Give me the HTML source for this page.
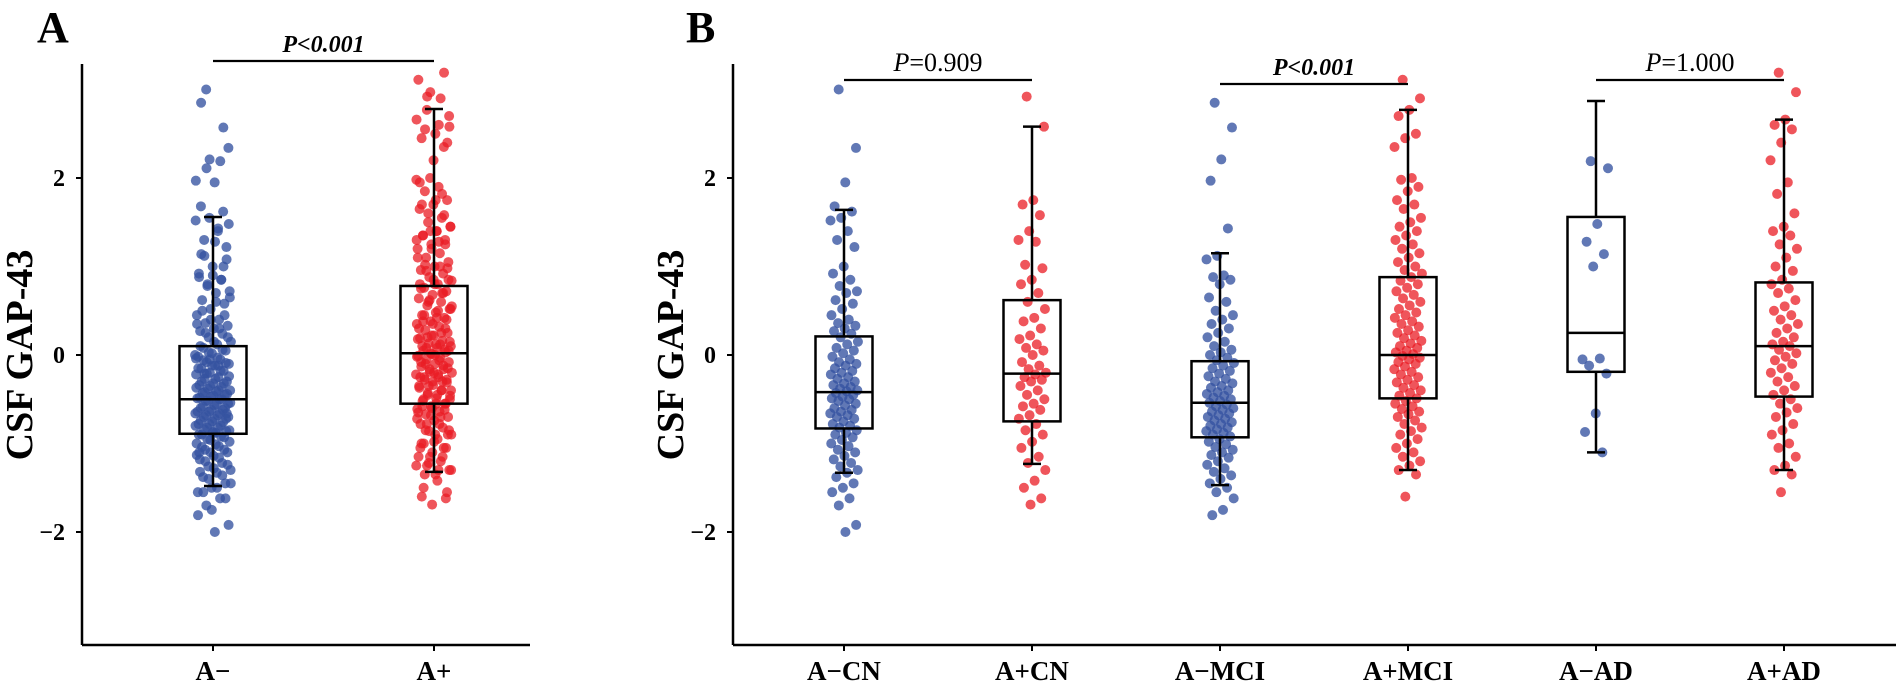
<!DOCTYPE html>
<html><head><meta charset="utf-8">
<style>
html,body{margin:0;padding:0;background:#fff;}
svg{display:block;font-family:"Liberation Serif",serif;}
</style></head>
<body>
<svg id="chart" width="1902" height="687" viewBox="0 0 1902 687" xmlns="http://www.w3.org/2000/svg"></svg>
<script>
// ---- data ----
const categoriesA = ["A\u2212","A+"];
const categoriesB = ["A\u2212CN","A+CN","A\u2212MCI","A+MCI","A\u2212AD","A+AD"];
const yTicks = [2,0,-2];
const tickLabels = ["2","0","\u22122"];
const negCN = [3.0,2.34,1.95,1.68,1.62,1.55,1.52,1.4,1.3,1.22,1.0,0.92,0.85,0.78,0.72,0.7,0.62,0.58,0.52,0.45,0.4,0.36,0.33,0.3,0.27,0.24,0.2,0.15,0.12,0.08,0.05,0.02,-0.02,-0.05,-0.08,-0.1,-0.12,-0.15,-0.18,-0.2,-0.22,-0.25,-0.27,-0.3,-0.32,-0.34,-0.36,-0.38,-0.4,-0.41,-0.43,-0.45,-0.47,-0.49,-0.5,-0.52,-0.55,-0.57,-0.6,-0.62,-0.64,-0.66,-0.68,-0.7,-0.72,-0.75,-0.78,-0.8,-0.82,-0.85,-0.88,-0.9,-0.93,-0.96,-1.0,-1.03,-1.07,-1.1,-1.14,-1.18,-1.22,-1.26,-1.3,-1.33,-1.38,-1.45,-1.5,-1.55,-1.62,-1.7,-1.92,-2.0];
const posCN = [2.92,2.58,1.75,1.7,1.58,1.4,1.3,1.28,1.02,0.98,0.85,0.8,0.7,0.6,0.52,0.42,0.38,0.3,0.22,0.18,0.12,0.08,0.05,0.0,-0.08,-0.12,-0.16,-0.2,-0.22,-0.25,-0.28,-0.3,-0.35,-0.4,-0.45,-0.5,-0.55,-0.58,-0.62,-0.68,-0.72,-0.78,-0.85,-0.9,-0.98,-1.05,-1.15,-1.22,-1.3,-1.42,-1.5,-1.62,-1.69];
const negMCI = [2.85,2.57,2.21,1.97,1.43,1.12,1.08,0.9,0.88,0.85,0.8,0.65,0.6,0.5,0.45,0.4,0.35,0.3,0.25,0.2,0.15,0.1,0.06,0.03,0.0,-0.03,-0.06,-0.09,-0.12,-0.15,-0.18,-0.21,-0.24,-0.27,-0.3,-0.32,-0.35,-0.37,-0.4,-0.42,-0.44,-0.46,-0.48,-0.5,-0.52,-0.54,-0.56,-0.58,-0.6,-0.62,-0.64,-0.66,-0.68,-0.7,-0.72,-0.74,-0.76,-0.78,-0.8,-0.82,-0.84,-0.86,-0.88,-0.9,-0.92,-0.95,-0.98,-1.01,-1.04,-1.07,-1.1,-1.13,-1.16,-1.2,-1.24,-1.28,-1.32,-1.36,-1.4,-1.45,-1.5,-1.55,-1.62,-1.75,-1.81];
const posMCI = [3.11,2.9,2.77,2.7,2.5,2.45,2.35,2.0,1.98,1.9,1.85,1.75,1.7,1.65,1.55,1.5,1.45,1.4,1.35,1.3,1.25,1.2,1.15,1.1,1.05,1.0,0.96,0.92,0.88,0.84,0.8,0.76,0.72,0.68,0.64,0.6,0.56,0.52,0.48,0.45,0.42,0.38,0.35,0.32,0.28,0.25,0.22,0.19,0.16,0.13,0.1,0.08,0.05,0.03,0.01,-0.01,-0.03,-0.05,-0.08,-0.1,-0.13,-0.16,-0.19,-0.22,-0.25,-0.28,-0.31,-0.34,-0.37,-0.4,-0.43,-0.46,-0.49,-0.52,-0.55,-0.58,-0.61,-0.64,-0.67,-0.7,-0.74,-0.78,-0.82,-0.86,-0.9,-0.95,-1.0,-1.05,-1.1,-1.15,-1.2,-1.25,-1.3,-1.35,-1.6];
const negAD = [2.19,2.11,1.48,1.28,1.14,1.0,-0.05,-0.04,-0.12,-0.21,-0.66,-0.87,-1.1];
const posAD = [3.19,2.97,2.66,2.6,2.55,2.4,2.2,1.95,1.82,1.6,1.45,1.4,1.35,1.25,1.2,1.1,1.0,0.95,0.85,0.8,0.75,0.7,0.62,0.55,0.5,0.45,0.4,0.35,0.3,0.25,0.2,0.15,0.12,0.1,0.06,0.02,-0.02,-0.06,-0.1,-0.15,-0.2,-0.25,-0.3,-0.35,-0.4,-0.45,-0.5,-0.55,-0.6,-0.65,-0.7,-0.78,-0.85,-0.9,-1.0,-1.05,-1.15,-1.25,-1.3,-1.35,-1.55];
// box stats: [lowWhisker, q1, median, q3, highWhisker]
const boxA = [[-1.48,-0.89,-0.5,0.1,1.56],[-1.32,-0.55,0.02,0.78,2.78]];
const boxB = [[-1.33,-0.83,-0.42,0.21,1.64],[-1.23,-0.75,-0.21,0.62,2.58],[-1.47,-0.93,-0.54,-0.07,1.15],[-1.3,-0.49,0.0,0.88,2.77],[-1.1,-0.19,0.25,1.56,2.87],[-1.3,-0.47,0.1,0.82,2.66]];
const pA = ["P<0.001"];
const pB = ["=0.909","P<0.001","=1.000"];

// ---- layout ----
const NS="http://www.w3.org/2000/svg";
const svg=document.getElementById('chart');
function y(v){return 355-88.5*v;}
const Y_TOP=64, Y_BOT=645;
const BLUE="rgba(52,82,160,0.78)", RED="rgba(233,28,36,0.75)";
function mk(tag,attrs,parent){const e=document.createElementNS(NS,tag);for(const k in attrs)e.setAttribute(k,attrs[k]);(parent||svg).appendChild(e);return e;}

function axes(x0,x1,centers,cats,panel){
  const g=mk('g',{});
  
  
  const ya=mk('line',{x1:x0,y1:Y_TOP,x2:x0,y2:Y_BOT,stroke:'#000','stroke-width':2.5},g);
  
  
  const xa=mk('line',{x1:x0,y1:Y_BOT,x2:x1,y2:Y_BOT,stroke:'#000','stroke-width':2.5},g);
  
  
  yTicks.forEach((t,i)=>{
    mk('line',{x1:x0-6,y1:y(t),x2:x0,y2:y(t),stroke:'#000','stroke-width':2},g);
    const tx=mk('text',{x:x0-17,y:y(t)+8,'text-anchor':'end','font-size':24,'font-weight':'bold'},g);
    tx.textContent=tickLabels[i];
    
    
  });
  cats.forEach((c,i)=>{
    mk('line',{x1:centers[i],y1:Y_BOT,x2:centers[i],y2:Y_BOT+6,stroke:'#000','stroke-width':2},g);
    const tx=mk('text',{x:centers[i],y:680,'text-anchor':'middle','font-size':27,'font-weight':'bold'},g);
    tx.textContent=c;
    
    
  });
  const t=mk('text',{x:0,y:0,'text-anchor':'middle','font-size':38,'font-weight':'bold',transform:`translate(${x0-50},355) rotate(-90)`},g);
  t.textContent="CSF GAP-43";
  
  
}

function points(vals,cx,w,color,name){
  const g=mk('g',{});
  
  
  vals.forEach((v,i)=>{
    const f=((i*0.6180339887+0.31)%1)-0.5;
    const c=mk('circle',{cx:cx+f*2*w,cy:y(v),r:5,fill:color},g);
    
    
  });
}

function box(st,cx,bw,name){
  const g=mk('g',{fill:'none',stroke:'#000','stroke-width':2.5});
  
  
  const [lo,q1,md,q3,hi]=st;
  mk('line',{x1:cx,y1:y(hi),x2:cx,y2:y(q3)},g);
  mk('line',{x1:cx,y1:y(q1),x2:cx,y2:y(lo)},g);
  mk('line',{x1:cx-9,y1:y(hi),x2:cx+9,y2:y(hi)},g);
  mk('line',{x1:cx-9,y1:y(lo),x2:cx+9,y2:y(lo)},g);
  mk('rect',{x:cx-bw/2,y:y(q3),width:bw,height:y(q1)-y(q3)},g);
  mk('line',{x1:cx-bw/2,y1:y(md),x2:cx+bw/2,y2:y(md)},g);
}

function sig(xa,xb,ly,label,bold,name){
  const g=mk('g',{});
  
  
  mk('line',{x1:xa,y1:ly,x2:xb,y2:ly,stroke:'#000','stroke-width':2.2},g);
  const t=mk('text',{x:(xa+xb)/2,y:ly-9,'text-anchor':'middle','font-size':bold?24:26},g);
  if(bold){t.setAttribute('font-weight','bold');t.setAttribute('font-style','italic');t.textContent=label;}
  else{const s=mk('tspan',{'font-style':'italic'},t);s.textContent="P";const s2=mk('tspan',{},t);s2.textContent=label;}
}

// Panel letters
const LA=mk('text',{x:37,y:42,'font-size':44,'font-weight':'bold'});LA.textContent="A";


const LB=mk('text',{x:686,y:42,'font-size':44,'font-weight':'bold'});LB.textContent="B";



// Panel A
const centersA=[213,434];
axes(82,530,centersA,categoriesA,'panel-a');
points(negCN.concat(negMCI,negAD),centersA[0],18,BLUE,'a-neg-points');
points(posCN.concat(posMCI,posAD),centersA[1],18,RED,'a-pos-points');
boxA.forEach((b,i)=>box(b,centersA[i],67,'panel-a-box-'+i));
sig(centersA[0],centersA[1],61,pA[0],true,'panel-a-significance');

// Panel B
const centersB=categoriesB.map((c,i)=>844+188*i);
axes(733,1896,centersB,categoriesB,'panel-b');
const groups=[negCN,posCN,negMCI,posMCI,negAD,posAD];
groups.forEach((g,i)=>points(g,centersB[i],14,i%2===0?BLUE:RED,'panel-b-points-'+i));
boxB.forEach((b,i)=>box(b,centersB[i],57,'panel-b-box-'+i));
sig(centersB[0],centersB[1],80,pB[0],false,'cn-significance');
sig(centersB[2],centersB[3],84,pB[1],true,'mci-significance');
sig(centersB[4],centersB[5],80,pB[2],false,'ad-significance');
</script>
</body></html>
